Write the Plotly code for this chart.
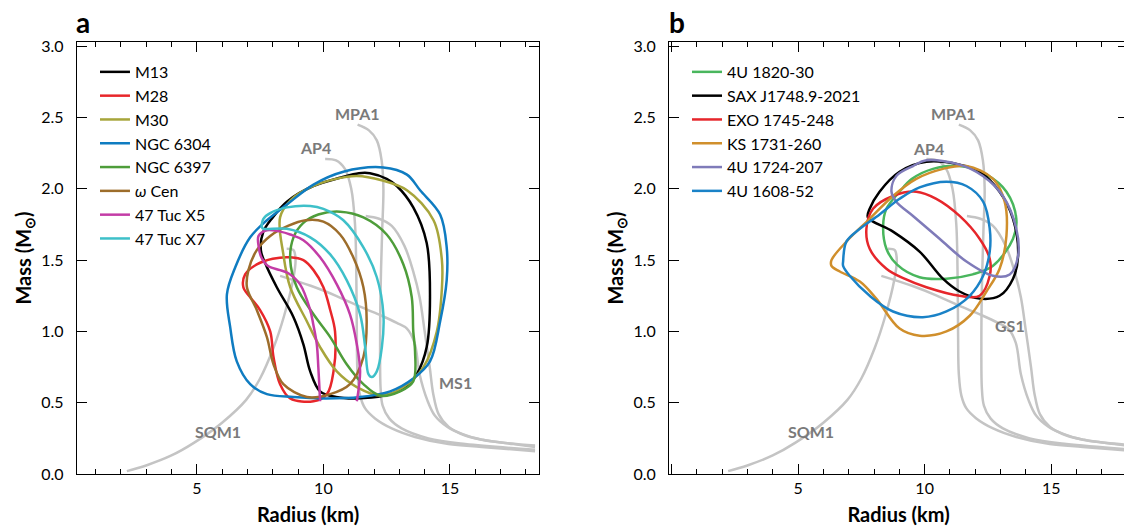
import plotly.graph_objects as go

# ---- equation-of-state curves (radius in km, mass in Msun) ----
sqm1_r = [2.24, 3.0, 4.0, 4.9, 6.0, 6.95, 7.5, 8.02, 8.45, 8.8, 8.9, 8.82, 8.55]
sqm1_m = [0.02, 0.06, 0.13, 0.22, 0.36, 0.52, 0.67, 0.88, 1.11, 1.36, 1.50, 1.57, 1.58]

ap4_r = [10.07, 10.5, 10.85, 11.1, 11.25, 11.3, 11.32, 11.35, 11.45, 11.65, 12.04, 12.7, 13.62, 14.94, 16.25, 18.36]
ap4_m = [2.21, 2.20, 2.14, 2.00, 1.75, 1.40, 1.00, 0.70, 0.55, 0.46, 0.39, 0.32, 0.26, 0.21, 0.19, 0.16]

mpa1_r = [11.35, 11.8, 12.11, 12.3, 12.37, 12.32, 12.26, 12.24, 12.26, 12.34, 12.6, 13.09, 14.15, 15.6, 18.36]
mpa1_m = [2.45, 2.41, 2.34, 2.20, 2.00, 1.70, 1.30, 0.90, 0.60, 0.48, 0.39, 0.32, 0.25, 0.21, 0.17]

ms1_r = [11.67, 12.2, 12.7, 13.2, 13.55, 13.8, 14.0, 14.2, 14.34, 14.55, 14.95, 15.6, 16.3, 17.5, 18.36]
ms1_m = [1.81, 1.79, 1.74, 1.60, 1.42, 1.24, 1.00, 0.75, 0.56, 0.42, 0.33, 0.27, 0.24, 0.21, 0.19]

gs1_r = [8.29, 9.5, 10.5, 11.5, 12.3, 12.9, 13.3, 13.6, 13.8, 14.1, 14.4, 14.9, 15.5, 16.25, 18.36]
gs1_m = [1.39, 1.32, 1.25, 1.17, 1.11, 1.06, 1.02, 0.92, 0.70, 0.52, 0.41, 0.33, 0.28, 0.24, 0.20]

eos_curves = [(sqm1_r, sqm1_m), (ap4_r, ap4_m), (mpa1_r, mpa1_m), (ms1_r, ms1_m), (gs1_r, gs1_m)]

# ---- panel a: quiescent LMXBs in globular clusters ----
m13_r = [7.53, 7.63, 8.0, 8.56, 9.6, 10.7, 11.4, 11.84, 12.5, 12.9, 13.55, 14.08, 14.21, 14.08, 13.69, 13.2, 12.4, 11.3, 10.5, 9.87, 9.48, 9.21, 8.82, 8.16, 7.70, 7.53]
m13_m = [1.57, 1.70, 1.80, 1.91, 2.02, 2.08, 2.11, 2.11, 2.07, 2.02, 1.87, 1.62, 1.24, 0.89, 0.70, 0.60, 0.55, 0.53, 0.54, 0.58, 0.72, 0.91, 1.10, 1.31, 1.48, 1.57]

m28_r = [8.69, 8.0, 7.37, 6.91, 6.84, 7.11, 7.50, 7.90, 8.03, 8.29, 8.69, 9.61, 10.14, 10.4, 10.46, 10.27, 10.0, 9.61, 9.21, 8.69]
m28_m = [1.52, 1.51, 1.47, 1.40, 1.31, 1.24, 1.15, 1.00, 0.82, 0.63, 0.53, 0.51, 0.56, 0.72, 1.00, 1.15, 1.31, 1.43, 1.50, 1.52]

m30_r = [8.29, 8.7, 9.48, 10.5, 11.32, 12.3, 13.3, 14.35, 14.68, 14.68, 14.48, 13.95, 13.16, 12.3, 11.32, 10.53, 9.87, 9.35, 8.69, 8.42, 8.29]
m30_m = [1.80, 1.92, 2.01, 2.07, 2.09, 2.06, 1.99, 1.78, 1.50, 1.30, 1.00, 0.75, 0.61, 0.55, 0.61, 0.72, 0.89, 1.07, 1.31, 1.54, 1.80]

ngc6304_r = [6.19, 6.52, 7.11, 7.77, 8.56, 9.61, 10.79, 12.37, 13.3, 13.82, 14.61, 14.87, 14.87, 14.61, 14.21, 13.55, 12.64, 11.45, 10.0, 8.82, 7.77, 7.11, 6.58, 6.32, 6.19]
ngc6304_m = [1.26, 1.45, 1.66, 1.78, 1.89, 2.03, 2.12, 2.15, 2.10, 1.99, 1.82, 1.59, 1.36, 1.07, 0.79, 0.67, 0.58, 0.54, 0.53, 0.54, 0.56, 0.63, 0.79, 1.03, 1.26]

ngc6397_r = [8.69, 8.82, 9.2, 9.8, 10.66, 11.58, 12.5, 13.16, 13.49, 13.55, 13.62, 13.55, 13.03, 12.24, 11.58, 10.92, 10.27, 9.61, 8.95, 8.69]
ngc6397_m = [1.50, 1.66, 1.76, 1.82, 1.84, 1.80, 1.68, 1.47, 1.24, 1.00, 0.86, 0.65, 0.58, 0.55, 0.63, 0.77, 0.96, 1.12, 1.31, 1.50]

wcen_r = [6.98, 7.04, 7.37, 7.9, 8.6, 9.3, 10.0, 10.66, 11.18, 11.58, 11.71, 11.58, 11.05, 10.27, 9.35, 8.42, 8.03, 7.77, 7.37, 6.98]
wcen_m = [1.31, 1.43, 1.57, 1.67, 1.74, 1.78, 1.77, 1.68, 1.52, 1.31, 1.07, 0.82, 0.63, 0.56, 0.54, 0.63, 0.77, 0.96, 1.15, 1.31]

tuc_x5_r = [9.87, 9.80, 9.74, 9.6, 9.48, 9.08, 8.6, 8.29, 7.8, 7.55, 7.44, 7.44, 7.77, 8.3, 8.69, 9.21, 9.87, 10.53, 11.05, 11.32, 11.45, 11.32]
tuc_x5_m = [0.51, 0.75, 0.91, 1.05, 1.15, 1.33, 1.41, 1.43, 1.46, 1.52, 1.60, 1.67, 1.71, 1.70, 1.68, 1.64, 1.52, 1.33, 1.12, 0.91, 0.72, 0.51]

tuc_x7_r = [7.57, 7.63, 7.9, 8.56, 9.48, 10.0, 10.79, 11.58, 12.11, 12.37, 12.31, 12.11, 11.91, 11.78, 11.65, 11.45, 10.92, 10.27, 9.48, 8.56, 7.63, 7.57]
tuc_x7_m = [1.73, 1.79, 1.83, 1.87, 1.88, 1.86, 1.78, 1.59, 1.38, 1.12, 0.89, 0.72, 0.68, 0.70, 0.89, 1.12, 1.36, 1.54, 1.66, 1.72, 1.72, 1.73]

panel_a_names = ["M13", "M28", "M30", "NGC 6304", "NGC 6397", "<i>ω</i> Cen", "47 Tuc X5", "47 Tuc X7"]
panel_a_colors = ["#000000", "#e8262a", "#a7a53b", "#0f7cc1", "#4e9d3a", "#9d6d2b", "#c33ca6", "#3ec0c9"]
panel_a_data = [(m13_r, m13_m), (m28_r, m28_m), (m30_r, m30_m), (ngc6304_r, ngc6304_m),
                (ngc6397_r, ngc6397_m), (wcen_r, wcen_m), (tuc_x5_r, tuc_x5_m), (tuc_x7_r, tuc_x7_m)]

# ---- panel b: thermonuclear bursters ----
u1820_r = [8.36, 8.49, 8.9, 9.8, 10.86, 11.9, 12.7, 13.49, 13.62, 13.23, 12.44, 11.38, 10.33, 9.5, 9.01, 8.49, 8.36]
u1820_m = [1.74, 1.58, 1.47, 1.38, 1.37, 1.40, 1.46, 1.65, 1.79, 1.98, 2.10, 2.16, 2.14, 2.07, 1.98, 1.86, 1.74]

sax_r = [7.76, 8.75, 9.8, 10.72, 11.38, 12.17, 12.96, 13.49, 13.69, 13.49, 12.96, 12.17, 11.38, 10.07, 9.01, 8.22, 7.83, 7.76]
sax_m = [1.80, 1.70, 1.56, 1.37, 1.28, 1.23, 1.25, 1.37, 1.53, 1.79, 1.98, 2.12, 2.17, 2.19, 2.12, 1.98, 1.86, 1.80]

exo_r = [7.70, 7.83, 8.49, 9.2, 10.07, 11.38, 12.17, 12.57, 12.57, 12.17, 11.38, 10.46, 9.67, 8.75, 7.96, 7.70]
exo_m = [1.72, 1.58, 1.44, 1.37, 1.31, 1.25, 1.25, 1.39, 1.51, 1.65, 1.81, 1.93, 1.98, 1.95, 1.86, 1.72]

ks_r = [6.32, 6.91, 7.83, 8.75, 9.67, 10.72, 11.65, 12.70, 13.16, 13.23, 12.96, 12.44, 11.78, 10.86, 9.80, 9.01, 8.09, 7.44, 6.65, 6.32, 6.32]
ks_m = [1.50, 1.63, 1.79, 1.95, 2.07, 2.14, 2.16, 2.07, 1.91, 1.67, 1.44, 1.28, 1.11, 1.00, 0.97, 1.02, 1.23, 1.35, 1.42, 1.46, 1.50]

u1724_r = [8.69, 8.88, 9.54, 10.07, 11.38, 12.3, 13.09, 13.62, 13.69, 13.36, 12.70, 11.65, 10.59, 9.54, 8.88, 8.69]
u1724_m = [1.98, 2.09, 2.16, 2.20, 2.17, 2.09, 1.95, 1.72, 1.53, 1.40, 1.39, 1.49, 1.65, 1.81, 1.91, 1.98]

u1608_r = [6.78, 6.91, 7.44, 8.22, 9.01, 9.80, 10.86, 11.65, 12.31, 12.57, 12.57, 12.31, 11.78, 10.86, 9.93, 8.75, 7.83, 7.04, 6.78, 6.78]
u1608_m = [1.49, 1.63, 1.72, 1.82, 1.93, 2.01, 2.05, 2.02, 1.91, 1.72, 1.56, 1.39, 1.25, 1.14, 1.10, 1.14, 1.25, 1.39, 1.46, 1.49]

panel_b_names = ["4U 1820-30", "SAX J1748.9-2021", "EXO 1745-248", "KS 1731-260", "4U 1724-207", "4U 1608-52"]
panel_b_colors = ["#49b65d", "#000000", "#e6262b", "#d08f2c", "#7f7bb9", "#1a82c7"]
panel_b_data = [(u1820_r, u1820_m), (sax_r, sax_m), (exo_r, exo_m), (ks_r, ks_m), (u1724_r, u1724_m), (u1608_r, u1608_m)]

# EOS labels: (text, radius, mass)
labels_a = [("MPA1", 11.35, 2.53), ("AP4", 9.68, 2.29), ("MS1", 15.2, 0.64), ("SQM1", 5.85, 0.30)]
labels_b = [("MPA1", 11.15, 2.53), ("AP4", 10.16, 2.28), ("GS1", 13.36, 1.04), ("SQM1", 5.53, 0.30)]

FONT = "Lato"
EOS_COLOR = "#c4c4c4"
LABEL_COLOR = "#7a7a7a"

fig = go.Figure()

for xa, ya in [("x", "y"), ("x2", "y2")]:
    for r, m in eos_curves:
        fig.add_trace(go.Scatter(x=r, y=m, mode="lines", xaxis=xa, yaxis=ya, showlegend=False,
                                 hoverinfo="skip", line=dict(color=EOS_COLOR, width=2.5, shape="spline")))

for name, color, (r, m) in zip(panel_a_names, panel_a_colors, panel_a_data):
    fig.add_trace(go.Scatter(x=r, y=m, mode="lines", name=name, xaxis="x", yaxis="y", legend="legend",
                             line=dict(color=color, width=2.5, shape="spline", smoothing=1)))

for name, color, (r, m) in zip(panel_b_names, panel_b_colors, panel_b_data):
    fig.add_trace(go.Scatter(x=r, y=m, mode="lines", name=name, xaxis="x2", yaxis="y2", legend="legend2",
                             line=dict(color=color, width=2.5, shape="spline", smoothing=1)))

annotations = []
for (labels, xr, yr) in [(labels_a, "x", "y"), (labels_b, "x2", "y2")]:
    for text, r, m in labels:
        annotations.append(dict(text="<b>%s</b>" % text, x=r, y=m, xref=xr, yref=yr, showarrow=False,
                                font=dict(family=FONT, size=16, color=LABEL_COLOR)))

annotations.append(dict(text="<b>a</b>", x=-0.003, y=1.047, xref="paper", yref="paper", xanchor="left",
                        yanchor="middle", showarrow=False, font=dict(family=FONT, size=28, color="black")))
annotations.append(dict(text="<b>b</b>", x=0.5615, y=1.047, xref="paper", yref="paper", xanchor="left",
                        yanchor="middle", showarrow=False, font=dict(family=FONT, size=28, color="black")))

xaxis_style = dict(showline=True, linecolor="black", linewidth=1.3, mirror="ticks", ticks="inside",
                   ticklen=10, tickwidth=1.2, tickcolor="black", tickvals=[0, 5, 10, 15],
                   ticktext=["", "5", "10", "15"], showgrid=False, zeroline=False,
                   tickfont=dict(family=FONT, size=16, color="black"),
                   minor=dict(ticks="inside", ticklen=5, tickwidth=1.2, tickcolor="black", dtick=1, tick0=0,
                              showgrid=False),
                   title=dict(text="<b>Radius (km)</b>", font=dict(family=FONT, size=20, color="black"),
                              standoff=11))
yaxis_style = dict(showline=True, linecolor="black", linewidth=1.3, mirror="ticks", ticks="inside",
                   ticklen=10, tickwidth=1.2, tickcolor="black", dtick=0.5, tick0=0, tickformat=".1f",
                   showgrid=False, zeroline=False, ticklabelstandoff=9, range=[0, 3.03],
                   tickfont=dict(family=FONT, size=16, color="black"),
                   title=dict(text="<b>Mass (M<sub>⊙</sub>)</b>", font=dict(family=FONT, size=20, color="black"),
                              standoff=4))

# the page adds an 8 px body margin, so the plot margins are shifted to compensate
fig.update_layout(
    width=1132, height=530,
    margin=dict(l=69, r=12, t=34, b=64),
    paper_bgcolor="white", plot_bgcolor="white",
    font=dict(family=FONT, color="black"),
    xaxis=dict(xaxis_style, domain=[0, 0.4397], range=[0.27, 18.52], anchor="y"),
    yaxis=dict(yaxis_style, anchor="x"),
    xaxis2=dict(xaxis_style, domain=[0.5634, 1], range=[-0.09, 18.03], anchor="y2"),
    yaxis2=dict(yaxis_style, anchor="x2"),
    legend=dict(x=0.0171, y=0.970, yanchor="top", xanchor="left",
                bgcolor="rgba(0,0,0,0)", font=dict(family=FONT, size=16, color="black"), itemwidth=30),
    legend2=dict(x=0.5804, y=0.970, yanchor="top", xanchor="left",
                 bgcolor="rgba(0,0,0,0)", font=dict(family=FONT, size=16, color="black"), itemwidth=30),
    annotations=annotations,
)

fig.write_html("out.html")
